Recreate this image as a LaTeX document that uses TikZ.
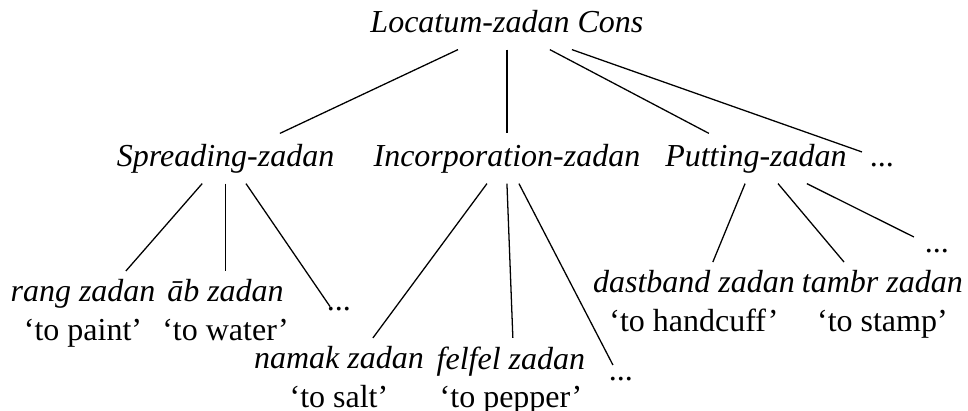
\documentclass[tikz,border=0pt]{standalone}
\usepackage{fontspec}
\setmainfont{Liberation Serif}[ItalicFont={Liberation Serif Italic}, BoldFont={Liberation Serif Bold}]
\usepackage{tikz}
\usetikzlibrary{scopes}

\begin{document}
\begin{tikzpicture}[
        cat/.style = {font=\itshape, inner sep=2.5pt, text height=7.8pt, text depth=2.5pt, anchor=base},
        verb/.style = {align=center, inner sep=2.5pt, anchor=north},
        more/.style = {inner sep=2.5pt, text height=2pt, text depth=2.5pt, anchor=base},
        branch/.style = {draw=black, line width=0.4pt},
    ]
    \useasboundingbox (0,0) rectangle (10.632,4.514);
    % top
    \node[cat] (locatum) at (5.568,4.152) {Locatum-zadan Cons};
    % second row
    \node[cat] (spreading) at (2.477,2.680) {Spreading-zadan};
    \node[cat] (incorp) at (5.568,2.680) {Incorporation-zadan};
    \node[cat] (putting) at (8.303,2.680) {Putting-zadan};
    \node[more] (moreA) at (9.687,2.680) {...};
    % Spreading
    \node[verb] (rang) at (0.912,1.538) {\textit{rang zadan}\\`to paint'};
    \node[verb] (ab) at (2.477,1.538) {\textit{āb zadan}\\`to water'};
    \node[more] (moreB) at (3.723,1.109) {...};
    % Incorporation
    \node[verb] (namak) at (3.723,0.802) {\textit{namak zadan}\\`to salt'};
    \node[verb] (felfel) at (5.612,0.802) {\textit{felfel zadan}\\`to pepper'};
    \node[more] (moreC) at (6.820,0.340) {...};
    % Putting
    \node[verb] (dastband) at (7.622,1.636) {\textit{dastband zadan}\\`to handcuff'};
    \node[verb] (tambr) at (9.692,1.636) {\textit{tambr zadan}\\`to stamp'};
    \node[more] (moreD) at (10.291,1.746) {...};

    % branches from the top
    \draw[branch] ([xshift=-15.3pt]locatum.south) -- ([xshift=17pt]spreading.north);
    \draw[branch] (locatum.south) -- (incorp.north);
    \draw[branch] ([xshift=13.4pt]locatum.south) -- ([xshift=-14.7pt]putting.north);
    \draw[branch] ([xshift=20.3pt]locatum.south) -- ([xshift=-6.25pt]moreA.north);
    % branches from Spreading
    \draw[branch] ([xshift=-7.3pt]spreading.south) -- ([xshift=13.4pt]rang.north);
    \draw[branch] (spreading.south) -- (ab.north);
    \draw[branch] ([xshift=6.4pt]spreading.south) -- ([xshift=-2.8pt,yshift=-3.6pt]moreB.north);
    % branches from Incorporation
    \draw[branch] ([xshift=-6.25pt]incorp.south) -- ([xshift=10.6pt]namak.north);
    \draw[branch] (incorp.south) -- ([xshift=0.6pt]felfel.north);
    \draw[branch] ([xshift=3.75pt]incorp.south) -- ([xshift=-2.5pt]moreC.north);
    % branches from Putting
    \draw[branch] ([xshift=-3.4pt]putting.south) -- ([xshift=5.9pt]dastband.north);
    \draw[branch] ([xshift=6.9pt]putting.south) -- ([xshift=-12pt]tambr.north);
    \draw[branch] ([xshift=15.9pt]putting.south) -- ([xshift=-7.2pt]moreD.north);
\end{tikzpicture}
\end{document}
